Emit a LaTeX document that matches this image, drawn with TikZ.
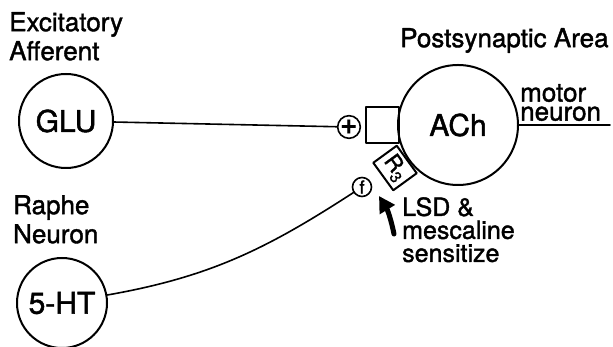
\documentclass[tikz,border=0pt]{standalone}
\usepackage{fontspec}
\setmainfont{TeX Gyre Heros}[UprightFeatures={FakeBold=1.5}]
\usetikzlibrary{arrows.meta}

\begin{document}
\begin{tikzpicture}[x=1pt,y=1pt,line join=round,line cap=round,
    cell/.style={draw,circle,line width=2pt,inner sep=0pt,font=\fontsize{30}{32}\selectfont},
    syn/.style={draw,circle,line width=1.6pt,inner sep=0pt,minimum size=22pt},
    lbl/.style={align=left,inner sep=0pt,font=\fontsize{26}{29}\selectfont},
    wire/.style={line width=1.6pt}]
    \useasboundingbox (0,0) rectangle (613,347);
    %% cells
    \node[cell,minimum size=94pt] (glu) at (66,226) {GLU};
    \node[cell,minimum size=90pt] (ht) at (62,44) {5-HT};
    \node[cell,minimum size=120pt] (ach) at (458,222) {ACh};
    %% receptors
    \node[draw,line width=2pt,minimum width=33pt,minimum height=36pt] (rec) at (382,222) {};
    \node[draw,line width=2pt,rotate=-54,minimum width=34pt,minimum height=29pt,inner sep=0pt,
        font=\fontsize{22}{22}\selectfont] (r3) at (395,179) {R\raisebox{-5pt}{\fontsize{16}{16}\selectfont 3}};
    %% synapses
    \node[syn,font=\fontsize{30}{30}\selectfont\bfseries] (plus) at (349,220) {+};
    \node[syn,minimum size=19pt,font=\fontsize{18}{18}\selectfont] (f) at (362,160) {f};
    %% connections
    \draw[wire] (glu) -- (plus);
    \draw[wire] (ht) to[out=10,in=-147] (f);
    \coordinate (mn) at (610,222);
    \draw[wire] (ach) -- (mn);
    %% arrow
    \coordinate (tail) at (394,113);
    \coordinate (tip) at (379,151);
    \draw[line width=5pt,-{Triangle[length=16pt,width=17pt]}] (tail) to[bend right=10] (tip);
    %% labels
    \node[lbl,anchor=north west] (exc) at (9,335) {Excitatory\\Afferent};
    \node[lbl,anchor=north west] (raphe) at (13,152) {Raphe\\Neuron};
    \node[lbl,anchor=north west] (post) at (400,319) {Postsynaptic Area};
    \node[lbl,anchor=north west,font=\fontsize{26}{19}\selectfont] (motor) at (520,263) {motor\\neuron};
    \node[lbl,anchor=north west,font=\fontsize{25}{23}\selectfont] (lsd) at (402,150) {LSD \&\\mescaline\\sensitize};
\end{tikzpicture}
\end{document}
